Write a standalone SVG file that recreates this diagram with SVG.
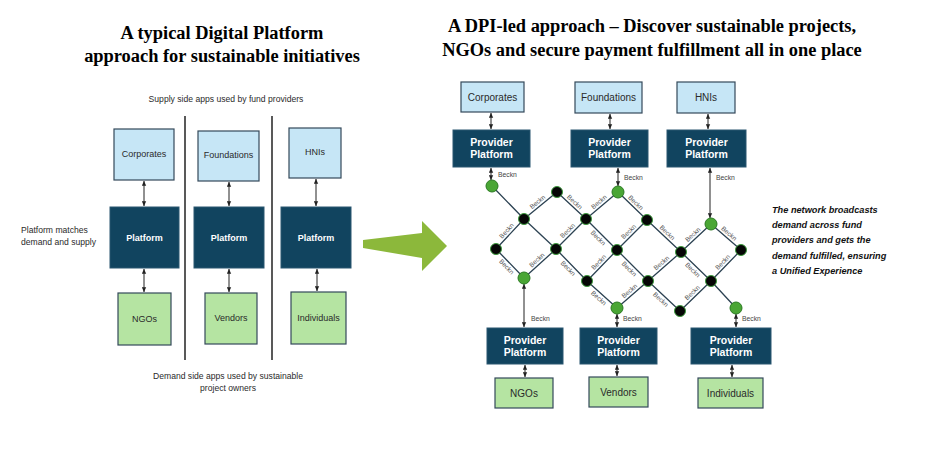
<svg xmlns="http://www.w3.org/2000/svg" width="930" height="456" viewBox="0 0 930 456">
<defs>
<style>
.title{font-family:"Liberation Serif","Times New Roman",serif;font-weight:bold;font-size:18.4px;fill:#000;text-anchor:middle}
.note{font-family:"Liberation Sans",Arial,sans-serif;font-size:8.6px;fill:#2a2a2a}
.lb{fill:#c6e6f6;stroke:#34495a;stroke-width:1.2}
.gb{fill:#b5e4a2;stroke:#34495a;stroke-width:1.2}
.db{fill:#11445f;stroke:#2a5670;stroke-width:1}
.bt{font-family:"Liberation Sans",Arial,sans-serif;font-size:9px;fill:#2a2a2a;text-anchor:middle}
.bt2{font-family:"Liberation Sans",Arial,sans-serif;font-size:10px;fill:#2a2a2a;text-anchor:middle}
.wt{font-family:"Liberation Sans",Arial,sans-serif;font-size:9px;font-weight:bold;fill:#fff;text-anchor:middle}
.wt2{font-family:"Liberation Sans",Arial,sans-serif;font-size:10.5px;font-weight:bold;fill:#fff;text-anchor:middle}
.arr{stroke:#222;stroke-width:1;fill:none;marker-start:url(#ah);marker-end:url(#ah)}
.sep{stroke:#222;stroke-width:1.5}
.link{stroke:#2c4252;stroke-width:1.3;fill:none}
.beckn{font-family:"Liberation Sans",Arial,sans-serif;font-size:6.5px;fill:#555;text-anchor:middle}
.bk{font-family:"Liberation Sans",Arial,sans-serif;font-size:6.8px;fill:#444}
.nb{fill:#060606;stroke:#3c9a3c;stroke-width:1}
.ng{fill:#4aa635;stroke:#2b7a22;stroke-width:1}
.it{font-family:"Liberation Sans",Arial,sans-serif;font-size:9.2px;font-style:italic;font-weight:bold;fill:#111}
</style>
<marker id="ah" viewBox="0 0 6 6" refX="5.8" refY="3" markerWidth="5" markerHeight="5" markerUnits="userSpaceOnUse" orient="auto-start-reverse">
<path d="M0,0.4 L6,3 L0,5.6 z" fill="#222"/>
</marker>
</defs>
<rect width="930" height="456" fill="#fff"/>

<!-- Titles -->
<text class="title" x="222" y="39">A typical Digital Platform</text>
<text class="title" x="222" y="62">approach for sustainable initiatives</text>
<text class="title" x="652" y="32">A DPI-led approach – Discover sustainable projects,</text>
<text class="title" x="652" y="56">NGOs and secure payment fulfillment all in one place</text>

<!-- Left diagram -->
<text class="note" x="226" y="102" text-anchor="middle">Supply side apps used by fund providers</text>
<text class="note" x="21" y="233" font-size="9px">Platform matches</text>
<text class="note" x="21" y="245" font-size="9px">demand and supply</text>
<text class="note" x="228" y="379" text-anchor="middle" font-size="9px">Demand side apps used by sustainable</text>
<text class="note" x="228" y="391" text-anchor="middle" font-size="9px">project owners</text>

<line class="sep" x1="185" y1="116" x2="185" y2="360"/>
<line class="sep" x1="272" y1="116" x2="272" y2="360"/>

<g id="l-corporates"><rect class="lb" x="114" y="129" width="60" height="51"/><text class="bt" x="144" y="157">Corporates</text></g>
<g id="l-foundations"><rect class="lb" x="198" y="131" width="61" height="50"/><text class="bt" x="228.5" y="158">Foundations</text></g>
<g id="l-hnis"><rect class="lb" x="289" y="128" width="52" height="50"/><text class="bt" x="315" y="155">HNIs</text></g>
<g id="l-platform1"><rect class="db" x="110" y="207" width="69" height="61"/><text class="wt" x="144.5" y="240.5">Platform</text></g>
<g id="l-platform2"><rect class="db" x="194" y="207" width="70" height="61"/><text class="wt" x="229" y="240.5">Platform</text></g>
<g id="l-platform3"><rect class="db" x="281" y="207" width="70" height="61"/><text class="wt" x="316" y="240.5">Platform</text></g>
<g id="l-ngos"><rect class="gb" x="118" y="293" width="53" height="52"/><text class="bt" x="144.5" y="322">NGOs</text></g>
<g id="l-vendors"><rect class="gb" x="205" y="293" width="52" height="51"/><text class="bt" x="231" y="321">Vendors</text></g>
<g id="l-individuals"><rect class="gb" x="291" y="292" width="55" height="52"/><text class="bt" x="318.5" y="321">Individuals</text></g>

<g id="l-connectors">
<line class="arr" x1="144" y1="181" x2="144" y2="206"/>
<line class="arr" x1="229" y1="182" x2="229" y2="206"/>
<line class="arr" x1="316" y1="179" x2="316" y2="206"/>
<line class="arr" x1="144" y1="269" x2="144" y2="292"/>
<line class="arr" x1="229" y1="269" x2="229" y2="292"/>
<line class="arr" x1="317" y1="269" x2="317" y2="291"/>
</g>

<!-- Big green arrow -->
<polygon points="363,240 422,233 422,221 447,246 422,271 422,258 363,248" fill="#8cb83b"/>

<!-- Right diagram boxes -->
<g id="r-corporates"><rect class="lb" x="461" y="82" width="63" height="30"/><text class="bt2" x="492.5" y="100.5">Corporates</text></g>
<g id="r-foundations"><rect class="lb" x="575" y="82" width="67" height="31"/><text class="bt2" x="608.5" y="101">Foundations</text></g>
<g id="r-hnis"><rect class="lb" x="677" y="82" width="58" height="31"/><text class="bt2" x="706" y="101">HNIs</text></g>
<g id="r-pp1"><rect class="db" x="453" y="130" width="77" height="37"/><text class="wt2" x="491.5" y="146.3">Provider</text><text class="wt2" x="491.5" y="158.3">Platform</text></g>
<g id="r-pp2"><rect class="db" x="571" y="130" width="77" height="37"/><text class="wt2" x="609.5" y="146.3">Provider</text><text class="wt2" x="609.5" y="158.3">Platform</text></g>
<g id="r-pp3"><rect class="db" x="667" y="130" width="79" height="37"/><text class="wt2" x="706.5" y="146.3">Provider</text><text class="wt2" x="706.5" y="158.3">Platform</text></g>
<g id="r-pp4"><rect class="db" x="487" y="328" width="76" height="36"/><text class="wt2" x="525" y="343.8">Provider</text><text class="wt2" x="525" y="355.8">Platform</text></g>
<g id="r-pp5"><rect class="db" x="580" y="328" width="77" height="36"/><text class="wt2" x="618.5" y="343.8">Provider</text><text class="wt2" x="618.5" y="355.8">Platform</text></g>
<g id="r-pp6"><rect class="db" x="691" y="328" width="80" height="36"/><text class="wt2" x="731" y="343.8">Provider</text><text class="wt2" x="731" y="355.8">Platform</text></g>
<g id="r-ngos"><rect class="gb" x="495" y="378" width="58" height="30"/><text class="bt2" x="524" y="396.5">NGOs</text></g>
<g id="r-vendors"><rect class="gb" x="589" y="377" width="59" height="30"/><text class="bt2" x="618.5" y="395.5">Vendors</text></g>
<g id="r-individuals"><rect class="gb" x="698" y="378" width="65" height="30"/><text class="bt2" x="730.5" y="396.5">Individuals</text></g>

<!-- Right connectors -->
<g id="r-connectors">
<line class="arr" x1="491" y1="113" x2="491" y2="129"/>
<line class="arr" x1="610" y1="114" x2="610" y2="129"/>
<line class="arr" x1="708" y1="114" x2="708" y2="129"/>
<line class="arr" x1="491" y1="168" x2="491" y2="180"/>
<line class="arr" x1="618" y1="168" x2="618" y2="186"/>
<line class="arr" x1="710" y1="168" x2="710" y2="218"/>
<line class="arr" x1="524" y1="284" x2="524" y2="327"/>
<line class="arr" x1="617" y1="314" x2="617" y2="327"/>
<line class="arr" x1="736" y1="314" x2="736" y2="327"/>
<line class="arr" x1="525" y1="365" x2="525" y2="377"/>
<line class="arr" x1="617" y1="365" x2="617" y2="376"/>
<line class="arr" x1="732" y1="365" x2="732" y2="377"/>
<text class="bk" x="498" y="177">Beckn</text>
<text class="bk" x="624" y="180">Beckn</text>
<text class="bk" x="716" y="180">Beckn</text>
<text class="bk" x="531" y="321">Beckn</text>
<text class="bk" x="623" y="321">Beckn</text>
<text class="bk" x="742" y="321">Beckn</text>

<!-- network links -->
<path class="link" d="M492,186 L524,219 M524,219 L557,192 M557,192 L586,219 M586,219 L618,192 M618,192 L647,220 M496,249 L524,219 M556,249 L586,219 M586,219 L617,250 M617,250 L647,220 M647,220 L681,252 M681,252 L711,224 M711,224 L741,250 M496,249 L524,278 M524,278 L556,249 M556,249 L587,281 M587,281 L617,250 M617,250 L648,281 M648,281 L681,252 M681,252 L711,281 M711,281 L741,250 M587,281 L617,308 M617,308 L648,281 M648,281 L680,311 M680,311 L711,281 M711,281 L736,308"/>
<path class="link" d="M524,219 L556,249" stroke-width="1.6" stroke="#1d3140"/>

<!-- Beckn labels on links -->
<text class="beckn" transform="translate(540.5,205.5) rotate(-39.3)" y="-2.5">Beckn</text>
<text class="beckn" transform="translate(571.5,205.5) rotate(43)" y="-2.5">Beckn</text>
<text class="beckn" transform="translate(602,205.5) rotate(-40.2)" y="-2.5">Beckn</text>
<text class="beckn" transform="translate(632.5,206) rotate(44)" y="-2.5">Beckn</text>
<text class="beckn" transform="translate(510,234) rotate(-47)" y="-2.5">Beckn</text>
<text class="beckn" transform="translate(571,234) rotate(-45)" y="-2.5">Beckn</text>
<text class="beckn" transform="translate(601.5,234.5) rotate(45)" y="7">Beckn</text>
<text class="beckn" transform="translate(632,235) rotate(-45)" y="-2.5">Beckn</text>
<text class="beckn" transform="translate(664,236) rotate(43.3)" y="-2.5">Beckn</text>
<text class="beckn" transform="translate(696,238) rotate(-43)" y="-2.5">Beckn</text>
<text class="beckn" transform="translate(726,237) rotate(40.9)" y="-2.5">Beckn</text>
<text class="beckn" transform="translate(510,263.5) rotate(46)" y="7">Beckn</text>
<text class="beckn" transform="translate(540,263.5) rotate(-42.2)" y="-2.5">Beckn</text>
<text class="beckn" transform="translate(571.5,265) rotate(45.9)" y="7">Beckn</text>
<text class="beckn" transform="translate(602,265.5) rotate(-45.9)" y="-2.5">Beckn</text>
<text class="beckn" transform="translate(632.5,265.5) rotate(45)" y="7">Beckn</text>
<text class="beckn" transform="translate(664.5,266.5) rotate(-41.3)" y="-2.5">Beckn</text>
<text class="beckn" transform="translate(696,266.5) rotate(44)" y="7">Beckn</text>
<text class="beckn" transform="translate(726,265.5) rotate(-45.9)" y="-2.5">Beckn</text>
<text class="beckn" transform="translate(602,294.5) rotate(42)" y="7">Beckn</text>
<text class="beckn" transform="translate(632.5,294.5) rotate(-41.1)" y="-2.5">Beckn</text>
<text class="beckn" transform="translate(664,296) rotate(43.2)" y="7">Beckn</text>
<text class="beckn" transform="translate(695.5,296) rotate(-44.1)" y="-2.5">Beckn</text>
</g>

<!-- Network nodes -->
<g id="n-a"><circle class="ng" cx="492" cy="186" r="6"/></g>
<g id="n-b"><circle class="nb" cx="557" cy="192" r="5.5"/></g>
<g id="n-c"><circle class="ng" cx="618" cy="192" r="6"/></g>
<g id="n-d"><circle class="nb" cx="524" cy="219" r="5.5"/></g>
<g id="n-e"><circle class="nb" cx="586" cy="219" r="5.5"/></g>
<g id="n-f"><circle class="nb" cx="647" cy="220" r="5.5"/></g>
<g id="n-g"><circle class="ng" cx="711" cy="224" r="6"/></g>
<g id="n-h"><circle class="nb" cx="496" cy="249" r="5.5"/></g>
<g id="n-i"><circle class="nb" cx="556" cy="249" r="5.5"/></g>
<g id="n-j"><circle class="nb" cx="617" cy="250" r="5.5"/></g>
<g id="n-k"><circle class="nb" cx="681" cy="252" r="5.5"/></g>
<g id="n-l"><circle class="nb" cx="741" cy="250" r="5.5"/></g>
<g id="n-m"><circle class="ng" cx="524" cy="278" r="6"/></g>
<g id="n-n"><circle class="nb" cx="587" cy="281" r="5.5"/></g>
<g id="n-o"><circle class="nb" cx="648" cy="281" r="5.5"/></g>
<g id="n-p"><circle class="nb" cx="711" cy="281" r="5.5"/></g>
<g id="n-q"><circle class="ng" cx="617" cy="308" r="6"/></g>
<g id="n-r"><circle class="nb" cx="680" cy="311" r="5.5"/></g>
<g id="n-s"><circle class="ng" cx="736" cy="308" r="6"/></g>

<!-- Side note -->
<g id="side-note">
<text class="it" x="772" y="213">The network broadcasts</text>
<text class="it" x="772" y="228">demand across fund</text>
<text class="it" x="772" y="243">providers and gets the</text>
<text class="it" x="772" y="259">demand fulfilled, ensuring</text>
<text class="it" x="772" y="274">a Unified Experience</text>
</g>
</svg>
